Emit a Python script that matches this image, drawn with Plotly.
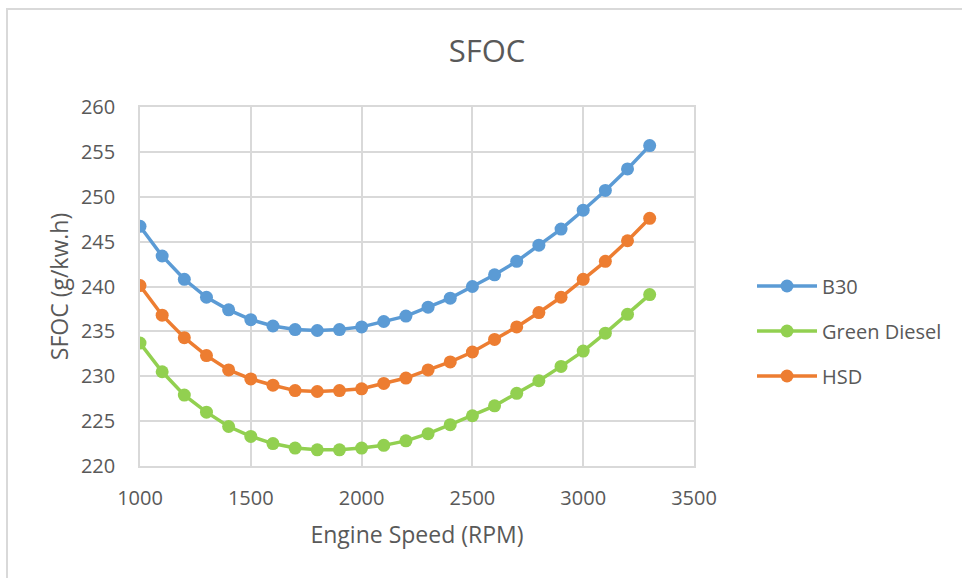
import plotly.graph_objects as go

# Engine speed sweep (RPM)
rpm = [1000, 1100, 1200, 1300, 1400, 1500, 1600, 1700, 1800, 1900, 2000, 2100,
       2200, 2300, 2400, 2500, 2600, 2700, 2800, 2900, 3000, 3100, 3200, 3300]

# Specific fuel oil consumption per fuel (g/kW.h)
sfoc_b30 = [246.7, 243.4, 240.8, 238.8, 237.4, 236.3, 235.6, 235.2, 235.1, 235.2,
            235.5, 236.1, 236.7, 237.7, 238.7, 240.0, 241.3, 242.8, 244.6, 246.4,
            248.5, 250.7, 253.1, 255.7]
sfoc_green = [233.7, 230.5, 227.9, 226.0, 224.4, 223.3, 222.5, 222.0, 221.8, 221.8,
              222.0, 222.3, 222.8, 223.6, 224.6, 225.6, 226.7, 228.1, 229.5, 231.1,
              232.8, 234.8, 236.9, 239.1]
sfoc_hsd = [240.1, 236.8, 234.3, 232.3, 230.7, 229.7, 229.0, 228.4, 228.3, 228.4,
            228.6, 229.2, 229.8, 230.7, 231.6, 232.7, 234.1, 235.5, 237.1, 238.8,
            240.8, 242.8, 245.1, 247.6]

series = [
    ("B30", sfoc_b30, "#5B9BD5"),
    ("Green Diesel", sfoc_green, "#92D050"),
    ("HSD", sfoc_hsd, "#ED7D31"),
]

FONT = "Open Sans"
TEXT = "#595959"
GRID = "#d9d9d9"

fig = go.Figure()
for name, vals, color in series:
    fig.add_trace(go.Scatter(
        x=rpm, y=vals, name=name, mode="lines+markers",
        legendgroup=name,
        line=dict(color=color, width=3.5),
        marker=dict(color=color, size=13),
    ))

W, H = 962, 578
L, R, T, B = 140, 268, 107, 112
pw, ph = W - L - R, H - T - B

fig.update_layout(
    width=W, height=H,
    margin=dict(l=L, r=R, t=T, b=B),
    paper_bgcolor="white", plot_bgcolor="white",
    font=dict(family=FONT, color=TEXT, size=20),
    title=dict(text="SFOC", x=(487 - L) / pw, xref="paper", xanchor="center",
               y=1 - 51 / H, yanchor="middle", font=dict(size=31, color=TEXT)),
    xaxis=dict(
        range=[1000, 3500], dtick=500, tick0=1000,
        showgrid=True, gridcolor=GRID, gridwidth=1.5,
        showline=True, linecolor=GRID, linewidth=1.5, mirror=True,
        zeroline=False, ticks="", ticklabelstandoff=13,
        tickfont=dict(size=20, color=TEXT),
        title=dict(text="Engine Speed (RPM)", font=dict(size=23, color=TEXT), standoff=17),
    ),
    yaxis=dict(
        range=[220, 260], dtick=5,
        showgrid=True, gridcolor=GRID, gridwidth=1.5,
        showline=True, linecolor=GRID, linewidth=1.5, mirror=True,
        zeroline=False, ticks="", ticklabelstandoff=19,
        tickfont=dict(size=20, color=TEXT),
        title=dict(text="SFOC (g/kw.h)", font=dict(size=23, color=TEXT), standoff=6),
    ),
    legend=dict(
        x=(752 - L) / pw, xanchor="left",
        y=(H - B - 331) / ph, yanchor="middle",
        traceorder="grouped", tracegroupgap=16,
        itemwidth=60,
        font=dict(size=20, color=TEXT),
        bgcolor="rgba(0,0,0,0)",
    ),
    shapes=[dict(
        type="rect", xref="paper", yref="paper",
        x0=(7 - L) / pw, x1=(W + 5 - L) / pw,
        y0=(H - B - (H + 5)) / ph, y1=(H - B - 9) / ph,
        line=dict(color=GRID, width=2), fillcolor="rgba(0,0,0,0)", layer="below",
    )],
)

fig.write_html("out.html")
